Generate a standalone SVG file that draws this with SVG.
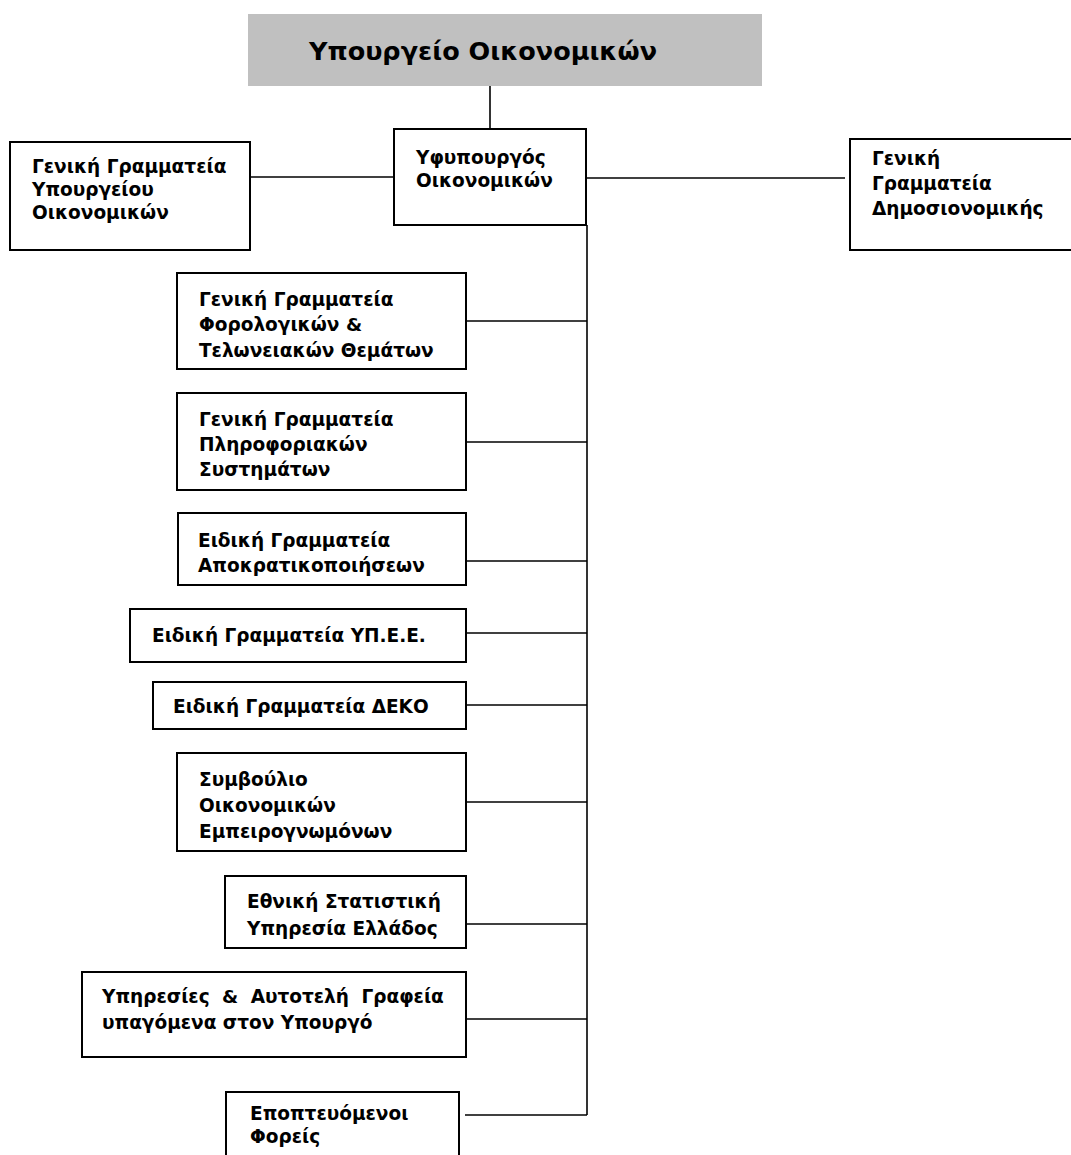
<svg xmlns="http://www.w3.org/2000/svg" width="1071" height="1155" viewBox="0 0 1071 1155">
<style>
.box{fill:#fff;stroke:#000;stroke-width:2}
.t{font-family:"DejaVu Sans",Verdana,sans-serif;font-weight:bold;font-size:18.5px;fill:#000}
.title{font-family:"DejaVu Sans",Verdana,sans-serif;font-weight:bold;font-size:25.5px;fill:#000}
.ln{stroke:#000;stroke-width:1.6;fill:none}
</style>
<rect width="1071" height="1155" fill="#fff"/>
<g id="connectors">
<line class="ln" x1="490" y1="86" x2="490" y2="129"/>
<line class="ln" x1="250" y1="177" x2="394" y2="177"/>
<line class="ln" x1="586" y1="178" x2="845" y2="178"/>
<line class="ln" x1="587" y1="225" x2="587" y2="1115"/>
<line class="ln" x1="466" y1="321" x2="587" y2="321"/>
<line class="ln" x1="466" y1="442" x2="587" y2="442"/>
<line class="ln" x1="466" y1="561" x2="587" y2="561"/>
<line class="ln" x1="466" y1="633" x2="587" y2="633"/>
<line class="ln" x1="466" y1="705" x2="587" y2="705"/>
<line class="ln" x1="466" y1="802" x2="587" y2="802"/>
<line class="ln" x1="466" y1="924" x2="587" y2="924"/>
<line class="ln" x1="466" y1="1019" x2="587" y2="1019"/>
<line class="ln" x1="465" y1="1115" x2="587" y2="1115"/>
</g>
<g id="n-ministry">
<rect x="248" y="14" width="514" height="72" fill="#c0c0c0"/>
<text class="title" x="309" y="60">Υπουργείο Οικονομικών</text>
</g>
<g id="n-deputy">
<rect class="box" x="394" y="129" width="192" height="96"/>
<text class="t" x="416" y="164">Υφυπουργός</text>
<text class="t" x="416" y="187">Οικονομικών</text>
</g>
<g id="n-gg-ministry">
<rect class="box" x="10" y="142" width="240" height="108"/>
<text class="t" x="32" y="173">Γενική Γραμματεία</text>
<text class="t" x="32" y="196">Υπουργείου</text>
<text class="t" x="32" y="219">Οικονομικών</text>
</g>
<g id="n-gg-fiscal">
<rect class="box" x="850" y="139" width="240" height="111"/>
<text class="t" x="872" y="165">Γενική</text>
<text class="t" x="872" y="190">Γραμματεία</text>
<text class="t" x="872" y="215">Δημοσιονομικής</text>
</g>
<g id="n-gg-tax">
<rect class="box" x="177" y="273" width="289" height="96"/>
<text class="t" x="199" y="306">Γενική Γραμματεία</text>
<text class="t" x="199" y="331">Φορολογικών &amp;</text>
<text class="t" x="199" y="357">Τελωνειακών Θεμάτων</text>
</g>
<g id="n-gg-is">
<rect class="box" x="177" y="393" width="289" height="97"/>
<text class="t" x="199" y="426">Γενική Γραμματεία</text>
<text class="t" x="199" y="451">Πληροφοριακών</text>
<text class="t" x="199" y="476">Συστημάτων</text>
</g>
<g id="n-eg-priv">
<rect class="box" x="178" y="513" width="288" height="72"/>
<text class="t" x="198" y="547">Ειδική Γραμματεία</text>
<text class="t" x="198" y="572">Αποκρατικοποιήσεων</text>
</g>
<g id="n-eg-ypee">
<rect class="box" x="130" y="609" width="336" height="53"/>
<text class="t" x="152" y="642">Ειδική Γραμματεία ΥΠ.Ε.Ε.</text>
</g>
<g id="n-eg-deko">
<rect class="box" x="153" y="682" width="313" height="47"/>
<text class="t" x="173" y="713">Ειδική Γραμματεία ΔΕΚΟ</text>
</g>
<g id="n-council">
<rect class="box" x="177" y="753" width="289" height="98"/>
<text class="t" x="199" y="786">Συμβούλιο</text>
<text class="t" x="199" y="812">Οικονομικών</text>
<text class="t" x="199" y="838">Εμπειρογνωμόνων</text>
</g>
<g id="n-stat">
<rect class="box" x="225" y="876" width="241" height="72"/>
<text class="t" x="247" y="908">Εθνική Στατιστική</text>
<text class="t" x="247" y="935">Υπηρεσία Ελλάδος</text>
</g>
<g id="n-services">
<rect class="box" x="82" y="972" width="384" height="85"/>
<text class="t" x="102" y="1003" word-spacing="6">Υπηρεσίες &amp; Αυτοτελή Γραφεία</text>
<text class="t" x="102" y="1029">υπαγόμενα στον Υπουργό</text>
</g>
<g id="n-supervised">
<rect class="box" x="226" y="1092" width="233" height="80"/>
<text class="t" x="250" y="1120">Εποπτευόμενοι</text>
<text class="t" x="250" y="1143">Φορείς</text>
</g>
</svg>
